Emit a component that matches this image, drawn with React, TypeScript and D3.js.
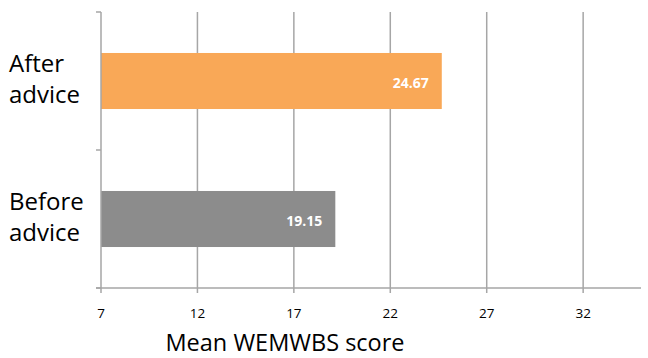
import * as d3 from "d3";
import React from "react";

const categories = ["After advice", "Before advice"];
const categoryLines = [["After", "advice"], ["Before", "advice"]];
const values = [24.67, 19.15];
const barColors = ["#F9A857", "#8C8C8C"];
const xTicks = [7, 12, 17, 22, 27, 32];
const xLabel = "Mean WEMWBS score";

const W = 648;
const H = 358;
const margin = { top: 12, right: 7, bottom: 70, left: 101 };
const font = "'Open Sans', sans-serif";

export default function App() {
	const innerW = W - margin.left - margin.right;
	const innerH = H - margin.top - margin.bottom;

	const x = d3.scaleLinear().domain([7, 35]).range([0, innerW]);
	const y = d3
		.scaleBand()
		.domain(categories)
		.range([0, innerH])
		.paddingInner(0.594)
		.paddingOuter(0.297);
	const step = y.step();

	return (
		<svg
			width={W}
			height={H}
			style={{ position: "absolute", left: 0, top: 0, background: "#fff" }}>
			<g transform={`translate(${margin.left}, ${margin.top})`}>
				{/* grid */}
				{xTicks.slice(1).map((t) => (
					<line
						key={t}
						x1={x(t)}
						x2={x(t)}
						y1={0}
						y2={innerH + 5}
						stroke="#A6A6A6"
						strokeWidth={1.5}
					/>
				))}
				{/* bars */}
				{categories.map((c, i) => (
					<g key={c}>
						<rect
							x={x(7)}
							y={y(c)}
							width={x(values[i]) - x(7)}
							height={y.bandwidth()}
							fill={barColors[i]}
						/>
						<text
							x={x(values[i]) - 13}
							y={(y(c) || 0) + y.bandwidth() / 2 + 2}
							dy="0.35em"
							textAnchor="end"
							fill="#fff"
							fontWeight="bold"
							fontSize={14}
							fontFamily={font}>
							{values[i].toFixed(2)}
						</text>
					</g>
				))}
				{/* left axis */}
				<line x1={0} x2={0} y1={0} y2={innerH + 5} stroke="#A6A6A6" strokeWidth={1.5} />
				{d3.range(categories.length + 1).map((k) => (
					<line
						key={k}
						x1={-5}
						x2={0}
						y1={k * step}
						y2={k * step}
						stroke="#A6A6A6"
						strokeWidth={1.5}
					/>
				))}
				{/* bottom axis */}
				<line x1={-5} x2={innerW} y1={innerH} y2={innerH} stroke="#A6A6A6" strokeWidth={1.5} />
				{xTicks.map((t) => (
					<text
						key={t}
						x={x(t)}
						y={innerH + 30}
						textAnchor="middle"
						fontSize={13.5}
						fontFamily={font}
						fill="#000">
						{t}
					</text>
				))}
				{/* category labels */}
				{categories.map((c, i) => {
					const cy = (y(c) || 0) + y.bandwidth() / 2;
					return (
						<text key={c} fontSize={24} fontFamily={font} fill="#000">
							<tspan x={-margin.left + 9} y={cy - 9}>
								{categoryLines[i][0]}
							</tspan>
							<tspan x={-margin.left + 9} y={cy + 22}>
								{categoryLines[i][1]}
							</tspan>
						</text>
					);
				})}
			</g>
			<text
				x={285}
				y={351}
				textAnchor="middle"
				fontSize={23.5}
				fontFamily={font}
				fill="#000">
				{xLabel}
			</text>
		</svg>
	);
}
